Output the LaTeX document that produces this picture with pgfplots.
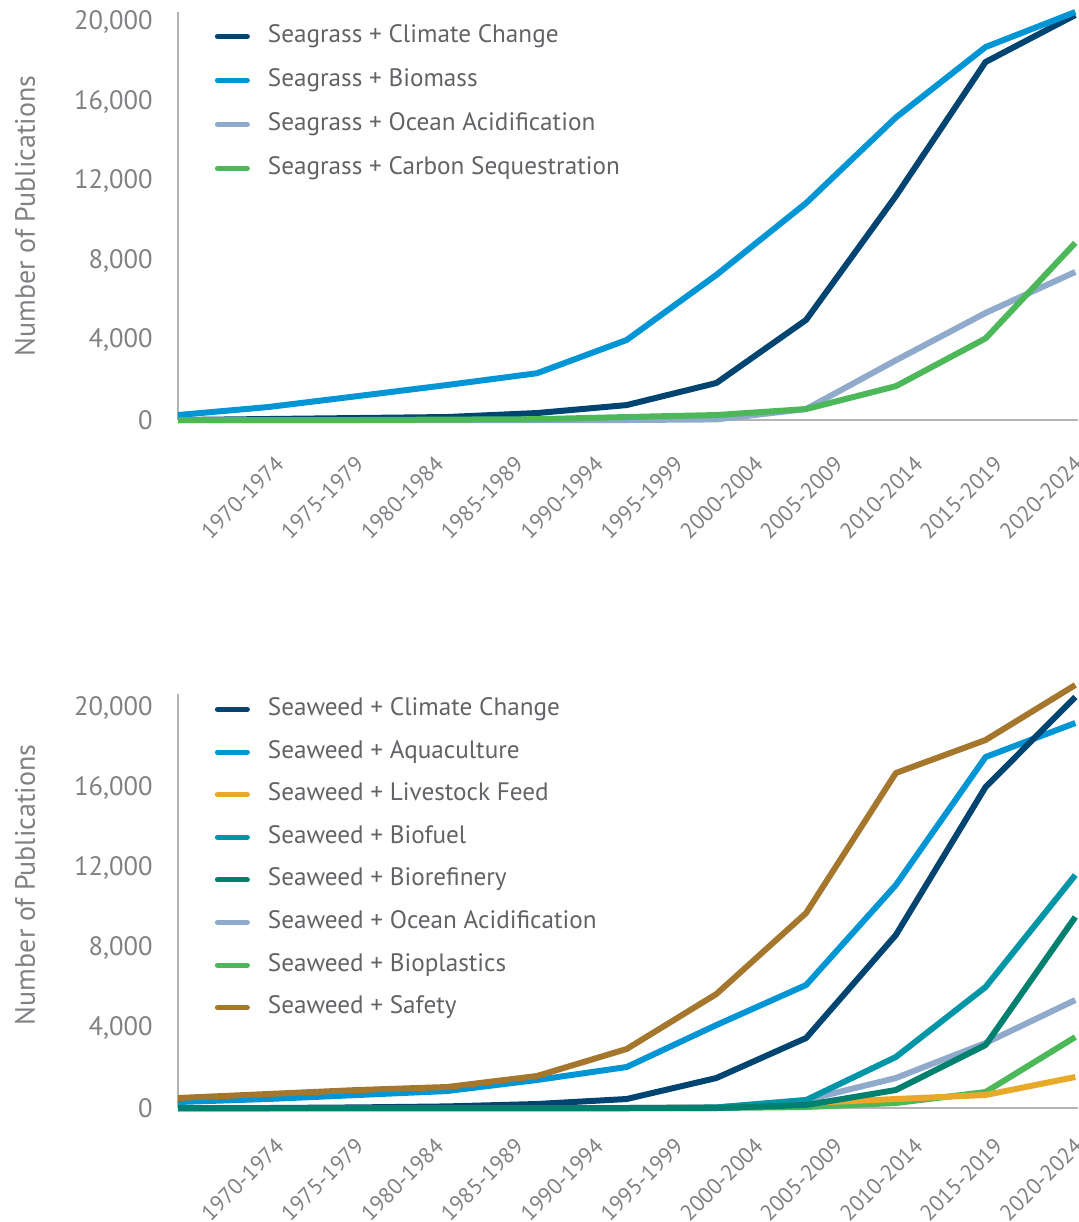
\documentclass[border=0pt]{standalone}
\usepackage{fontspec}
\setmainfont{PT Sans}
\usepackage{pgfplots}
\usepackage{pgfplotstable}
\pgfplotsset{compat=1.18}

\definecolor{navy}{RGB}{0,68,113}
\definecolor{sky}{RGB}{0,150,214}
\definecolor{slate}{RGB}{143,170,203}
\definecolor{leaf}{RGB}{76,184,90}
\definecolor{gold}{RGB}{232,169,42}
\definecolor{biofuel}{RGB}{0,150,168}
\definecolor{pine}{RGB}{0,128,110}
\definecolor{bronze}{RGB}{165,119,45}
\definecolor{axisgray}{RGB}{180,180,180}
\definecolor{ticktext}{RGB}{128,129,132}
\definecolor{legtext}{RGB}{98,99,103}

% publications per five-year period, x = period index 0..10
\pgfplotstableread{
i climate biomass ocean carbon
0 0 250 0 0
1 50 650 0 0
2 100 1200 0 0
3 150 1760 0 20
4 350 2350 0 40
5 750 4020 0 150
6 1860 7290 30 250
7 5030 10900 550 550
8 11250 15200 3000 1700
9 17990 18740 5380 4100
10 20350 20500 7440 8900
}\seagrass

\pgfplotstableread{
i climate aqua feed biofuel biorefinery ocean bioplastic safety
0 0 300 0 0 0 0 0 500
1 0 450 0 0 0 0 0 700
2 30 650 0 0 0 0 0 900
3 80 850 0 0 0 0 0 1050
4 200 1400 0 0 0 0 0 1600
5 450 2050 0 0 0 0 0 2950
6 1500 4150 30 30 0 20 0 5700
7 3500 6150 250 400 150 400 50 9750
8 8650 11150 450 2550 900 1500 250 16750
9 16050 17550 650 6050 3150 3250 800 18400
10 20550 19250 1550 11650 9550 5400 3550 21150
}\seaweed

\pgfplotsset{
  pubs/.style={
    scale only axis, width=450pt,
    xmin=0, xmax=10.03, ymin=0,
    clip=false,
    axis x line=bottom, axis y line=left,
    axis line style={-, draw=axisgray, line width=1pt},
    major tick length=0pt,
    xtick={1.07,1.96,2.85,3.74,4.63,5.52,6.41,7.30,8.19,9.08,9.97},
    xticklabels={1970-1974,1975-1979,1980-1984,1985-1989,1990-1994,1995-1999,2000-2004,2005-2009,2010-2014,2015-2019,2020-2024},
    xticklabel shift=17pt,
    x tick label style={rotate=45, anchor=north east, inner sep=0pt,
      font=\fontsize{11.2}{12}\selectfont, text=ticktext},
    ytick={0,4000,8000,12000,16000,20000},
    yticklabel shift=12.5pt,
    y tick label style={anchor=east, inner sep=0pt,
      font=\fontsize{13.3}{12}\selectfont, text=ticktext},
    scaled y ticks=false,
    /pgf/number format/1000 sep={,},
    /pgf/number format/assume math mode=true,
    ylabel={Number of Publications},
    ylabel style={at={(axis description cs:-0.17,0.5)}, anchor=center,
      font=\fontsize{14}{14}\selectfont, text=ticktext},
    every axis plot/.append style={line width=3pt, line join=round, mark=none},
    legend image code/.code={\draw[#1, line width=2.5pt, line cap=round] (0pt,0pt) -- (15pt,0pt);},
    legend cell align=left,
    legend style={at={(axis description cs:0,1)}, anchor=north west, xshift=18.25pt,
      draw=none, fill=none, inner sep=0pt,
      font=\fontsize{12.6}{12}\selectfont, text=legtext,
      nodes={inner sep=0pt, text height=9pt, text depth=3pt},
      /tikz/every odd column/.append style={column sep=9pt}},
  }
}

\begin{document}
\begin{tikzpicture}
\useasboundingbox (0,0) rectangle (539pt,-611pt);

\begin{axis}[pubs, height=204pt, ymax=20500,
  at={(89pt,-210pt)}, anchor=south west,
  legend style={yshift=-6pt, row sep=10pt}]
\addplot[navy] table[x=i, y=climate] {\seagrass};
\addlegendentry{Seagrass + Climate Change}
\addplot[sky] table[x=i, y=biomass] {\seagrass};
\addlegendentry{Seagrass + Biomass}
\addplot[slate] table[x=i, y=ocean] {\seagrass};
\addlegendentry{Seagrass + Ocean Acidification}
\addplot[leaf] table[x=i, y=carbon] {\seagrass};
\addlegendentry{Seagrass + Carbon Sequestration}
\end{axis}

\begin{axis}[pubs, height=207pt, ymax=20700,
  at={(89pt,-554pt)}, anchor=south west,
  xticklabel shift=14pt,
  ylabel style={at={(axis description cs:-0.17,0.539)}},
  legend style={yshift=-1.5pt, row sep=9.3pt}]
\addlegendimage{navy}
\addlegendentry{Seaweed + Climate Change}
\addlegendimage{sky}
\addlegendentry{Seaweed + Aquaculture}
\addlegendimage{gold}
\addlegendentry{Seaweed + Livestock Feed}
\addlegendimage{biofuel}
\addlegendentry{Seaweed + Biofuel}
\addlegendimage{pine}
\addlegendentry{Seaweed + Biorefinery}
\addlegendimage{slate}
\addlegendentry{Seaweed + Ocean Acidification}
\addlegendimage{leaf}
\addlegendentry{Seaweed + Bioplastics}
\addlegendimage{bronze}
\addlegendentry{Seaweed + Safety}
\addplot[leaf, forget plot] table[x=i, y=bioplastic] {\seaweed};
\addplot[gold, forget plot] table[x=i, y=feed] {\seaweed};
\addplot[slate, forget plot] table[x=i, y=ocean] {\seaweed};
\addplot[biofuel, forget plot] table[x=i, y=biofuel] {\seaweed};
\addplot[sky, forget plot] table[x=i, y=aqua] {\seaweed};
\addplot[navy, forget plot] table[x=i, y=climate] {\seaweed};
\addplot[pine, forget plot] table[x=i, y=biorefinery] {\seaweed};
\addplot[bronze, forget plot] table[x=i, y=safety] {\seaweed};
\end{axis}
\end{tikzpicture}
\end{document}
